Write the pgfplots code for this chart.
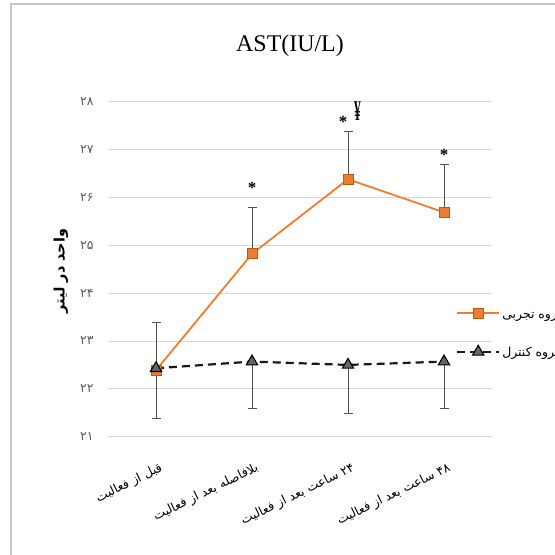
\documentclass[border=0pt]{standalone}
\usepackage{fontspec}
\setmainfont{Liberation Serif}
\newfontfamily\fa[Script=Arabic]{DejaVu Sans}
\usepackage{graphicx}
\usepackage{pgfplots}
\pgfplotsset{compat=1.18}
\TeXXeTstate=1
\definecolor{exporange}{HTML}{ED7D31}
\definecolor{expedge}{HTML}{B85B1A}
\definecolor{gridgray}{HTML}{D9D9D9}
\definecolor{tickgray}{HTML}{595959}
\definecolor{errgray}{HTML}{505050}
\definecolor{framegray}{HTML}{C8C8C8}

\pgfplotstableread{
x y ey
0 22.39 1.00
1 24.82 0.97
2 26.38 0.99
3 25.69 1.00
}\exptable
\pgfplotstableread{
x y ey
0 22.43 1.05
1 22.57 0.98
2 22.50 1.01
3 22.57 0.98
}\ctrltable

\begin{document}
\begin{tikzpicture}
\draw[framegray, line width=1.2bp] (11bp,-600bp) -- (11bp,-4bp) -- (600bp,-4bp);
\node[font=\fontsize{24}{26}\selectfont] at (290bp,-46bp) {AST(IU/L)};
\node[rotate=90, font=\fa\bfseries\fontsize{14.5}{16}\selectfont] at (61bp,-271bp) {\beginR واحد در لیتر\endR};
\begin{axis}[
  at={(108bp,-436.7bp)}, anchor=south west,
  width=384bp, height=335bp, scale only axis,
  xmin=-0.5, xmax=3.5, ymin=21, ymax=28,
  clip=false,
  axis line style={draw=none},
  tick style={draw=none},
  ymajorgrids, major grid style={gridgray, line width=0.9bp},
  ytick={21,22,23,24,25,26,27,28},
  yticklabels={۲۱,۲۲,۲۳,۲۴,۲۵,۲۶,۲۷,۲۸},
  yticklabel style={font=\fa\fontsize{12.5}{14}\selectfont, text=tickgray, xshift=-11bp},
  xtick={0,1,2,3},
  xticklabels={{\beginR قبل از فعالیت\endR},{\beginR بلافاصله بعد از فعالیت\endR},{\beginR ۲۴ ساعت بعد از فعالیت\endR},{\beginR ۴۸ ساعت بعد از فعالیت\endR}},
  xticklabel style={font=\fa\fontsize{12.5}{14}\selectfont, yshift=-25bp, xshift=3bp, rotate=26, anchor=north east, inner sep=0pt},
  legend style={at={(rel axis cs:0.906,0.311)}, anchor=west, draw=none, fill=none, inner sep=0pt, row sep=22bp, font=\fa\fontsize{12.5}{14}\selectfont},
  legend cell align=left,
  legend image code/.code={\draw[mark repeat=2,mark phase=2,#1] plot coordinates {(0bp,0bp) (21bp,0bp) (42bp,0bp)};},
]
\addplot[exporange, line width=1.8bp, mark=square*, mark size=5bp,
  mark options={solid, fill=exporange, draw=expedge, line width=0.9bp},
  error bars/.cd, y dir=plus, y explicit,
  error bar style={errgray, line width=0.8bp, solid},
  error mark options={rotate=90, mark size=4.5bp, errgray, line width=0.8bp}]
  table[x=x, y=y, y error=ey] {\exptable};
\addlegendentry{\beginR گروه تجربی\endR}
\addplot[black!90, line width=2.2bp, dash pattern=on 8bp off 5bp, mark=triangle*, mark size=6.5bp,
  mark options={solid, fill=black!60, draw=black, line width=1.1bp},
  error bars/.cd, y dir=minus, y explicit,
  error bar style={errgray, line width=0.8bp, solid},
  error mark options={rotate=90, mark size=4.5bp, errgray, line width=0.8bp}]
  table[x=x, y=y, y error=ey] {\ctrltable};
\addlegendentry{\beginR گروه کنترل\endR}
\node[font=\bfseries\fontsize{17}{17}\selectfont] at (axis cs:1,26.2) {*};
\node[font=\bfseries\fontsize{17}{17}\selectfont] at (axis cs:1.95,27.58) {*};
\node[font=\bfseries\fontsize{18}{18}\selectfont] at (axis cs:2.1,27.8) {\scalebox{0.75}[1.6]{¥}};
\node[font=\bfseries\fontsize{17}{17}\selectfont] at (axis cs:3,26.88) {*};
\end{axis}
\pgfresetboundingbox
\useasboundingbox (0bp,0bp) rectangle (555bp,-555bp);
\end{tikzpicture}
\end{document}
